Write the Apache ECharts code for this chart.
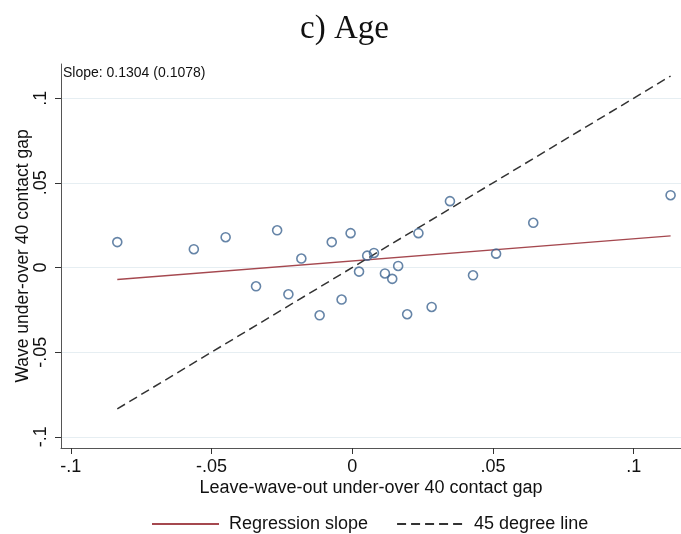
<!DOCTYPE html>
<html>
<head>
<meta charset="utf-8">
<script src="https://cdn.jsdelivr.net/npm/echarts@6/dist/echarts.min.js"></script>
<style>
html,body{margin:0;padding:0;background:#fff;}
#chart{width:681px;height:534px;}
</style>
</head>
<body>
<div id="chart"></div>
<script>
// Scatter points (leave-wave-out gap, wave gap)
const gapX = [-0.0835, -0.0563, -0.0450, -0.0342, -0.0267, -0.0227, -0.0181, -0.0116, -0.0073, -0.0038,
              -0.0006, 0.0024, 0.0053, 0.0077, 0.0116, 0.0142, 0.0163, 0.0195, 0.0235, 0.0282,
              0.0347, 0.0429, 0.0511, 0.0643, 0.1131];
const gapY = [0.0150, 0.0108, 0.0179, -0.0111, 0.0220, -0.0158, 0.0053, -0.0282, 0.0150, -0.0189,
              0.0203, -0.0024, 0.0070, 0.0086, -0.0035, -0.0067, 0.0009, -0.0276, 0.0203, -0.0233,
              0.0392, -0.0046, 0.0082, 0.0264, 0.0427];
// Regression line endpoints
const regX = [-0.0835, 0.1131];
const regY = [-0.0071, 0.0187];
// 45 degree line endpoints
const degX = [-0.0835, 0.1131];
const degY = [-0.0835, 0.1131];
// Tick labels
const xTicks = [-0.1, -0.05, 0, 0.05, 0.1];
const yTicks = [-0.1, -0.05, 0, 0.05, 0.1];
const slopeText = 'Slope: 0.1304 (0.1078)';

const fmt = v => (v === 0 ? '0' : String(v).replace('0.', '.'));
const sans = 'Liberation Sans';

const chart = echarts.init(document.getElementById('chart'), null, {renderer: 'canvas'});
chart.setOption({
  animation: false,
  backgroundColor: '#ffffff',
  title: [
    {text: 'c) Age', left: 300, top: 13, padding: 0,
     textStyle: {fontFamily: 'Liberation Serif', fontSize: 33, fontWeight: 'normal', color: '#111'}},
    {text: slopeText, left: 63, top: 66, padding: 0,
     textStyle: {fontFamily: sans, fontSize: 14, fontWeight: 'normal', color: '#111'}}
  ],
  legend: {
    data: ['Regression slope', '45 degree line'],
    left: 151, top: 515, padding: 0,
    itemWidth: 67, itemHeight: 14, itemGap: 28,
    itemStyle: {opacity: 0},
    textStyle: {fontFamily: sans, fontSize: 18, color: '#111', padding: [0, 0, 0, 5]}
  },
  grid: {left: 61, top: 64, right: 0, bottom: 86, containLabel: false, outerBoundsMode: 'none'},
  xAxis: {
    type: 'value', min: -0.1035, max: 0.1168,
    name: 'Leave-wave-out under-over 40 contact gap',
    nameLocation: 'middle', nameGap: 31, nameMoveOverlap: false,
    nameTextStyle: {fontFamily: sans, fontSize: 18, color: '#111'},
    axisLine: {show: true, onZero: false, lineStyle: {color: '#555', width: 1}},
    axisTick: {show: true, length: 6, customValues: xTicks, lineStyle: {color: '#333'}},
    axisLabel: {customValues: xTicks, formatter: fmt, margin: 10,
                fontFamily: sans, fontSize: 18, color: '#111'},
    splitLine: {show: false}
  },
  yAxis: {
    type: 'value', min: -0.1066, max: 0.1202,
    name: 'Wave under-over 40 contact gap',
    nameLocation: 'middle', nameGap: 29, nameMoveOverlap: false,
    nameTextStyle: {fontFamily: sans, fontSize: 17.5, color: '#111'},
    axisLine: {show: true, onZero: false, lineStyle: {color: '#555', width: 1}},
    axisTick: {show: true, length: 6, customValues: yTicks, lineStyle: {color: '#333'}},
    axisLabel: {customValues: yTicks, formatter: fmt, rotate: 90, margin: 11,
                fontFamily: sans, fontSize: 18, color: '#111'},
    splitLine: {show: true, lineStyle: {color: '#e6eef2', width: 1}}
  },
  series: [
    {
      name: 'points', type: 'scatter',
      data: gapX.map((x, i) => [x, gapY[i]]),
      symbol: 'circle', symbolSize: 9,
      itemStyle: {color: 'rgba(255,255,255,0)', borderColor: '#3e6591', borderWidth: 1.6},
      z: 3
    },
    {
      name: 'Regression slope', type: 'line',
      data: regX.map((x, i) => [x, regY[i]]),
      symbol: 'none',
      lineStyle: {color: '#a5484f', width: 1.4},
      itemStyle: {color: '#a5484f'},
      z: 2
    },
    {
      name: '45 degree line', type: 'line',
      data: degX.map((x, i) => [x, degY[i]]),
      symbol: 'none',
      lineStyle: {color: '#333', width: 1.5, type: [9, 5]},
      itemStyle: {color: '#333'},
      z: 2
    }
  ]
});
</script>
</body>
</html>
